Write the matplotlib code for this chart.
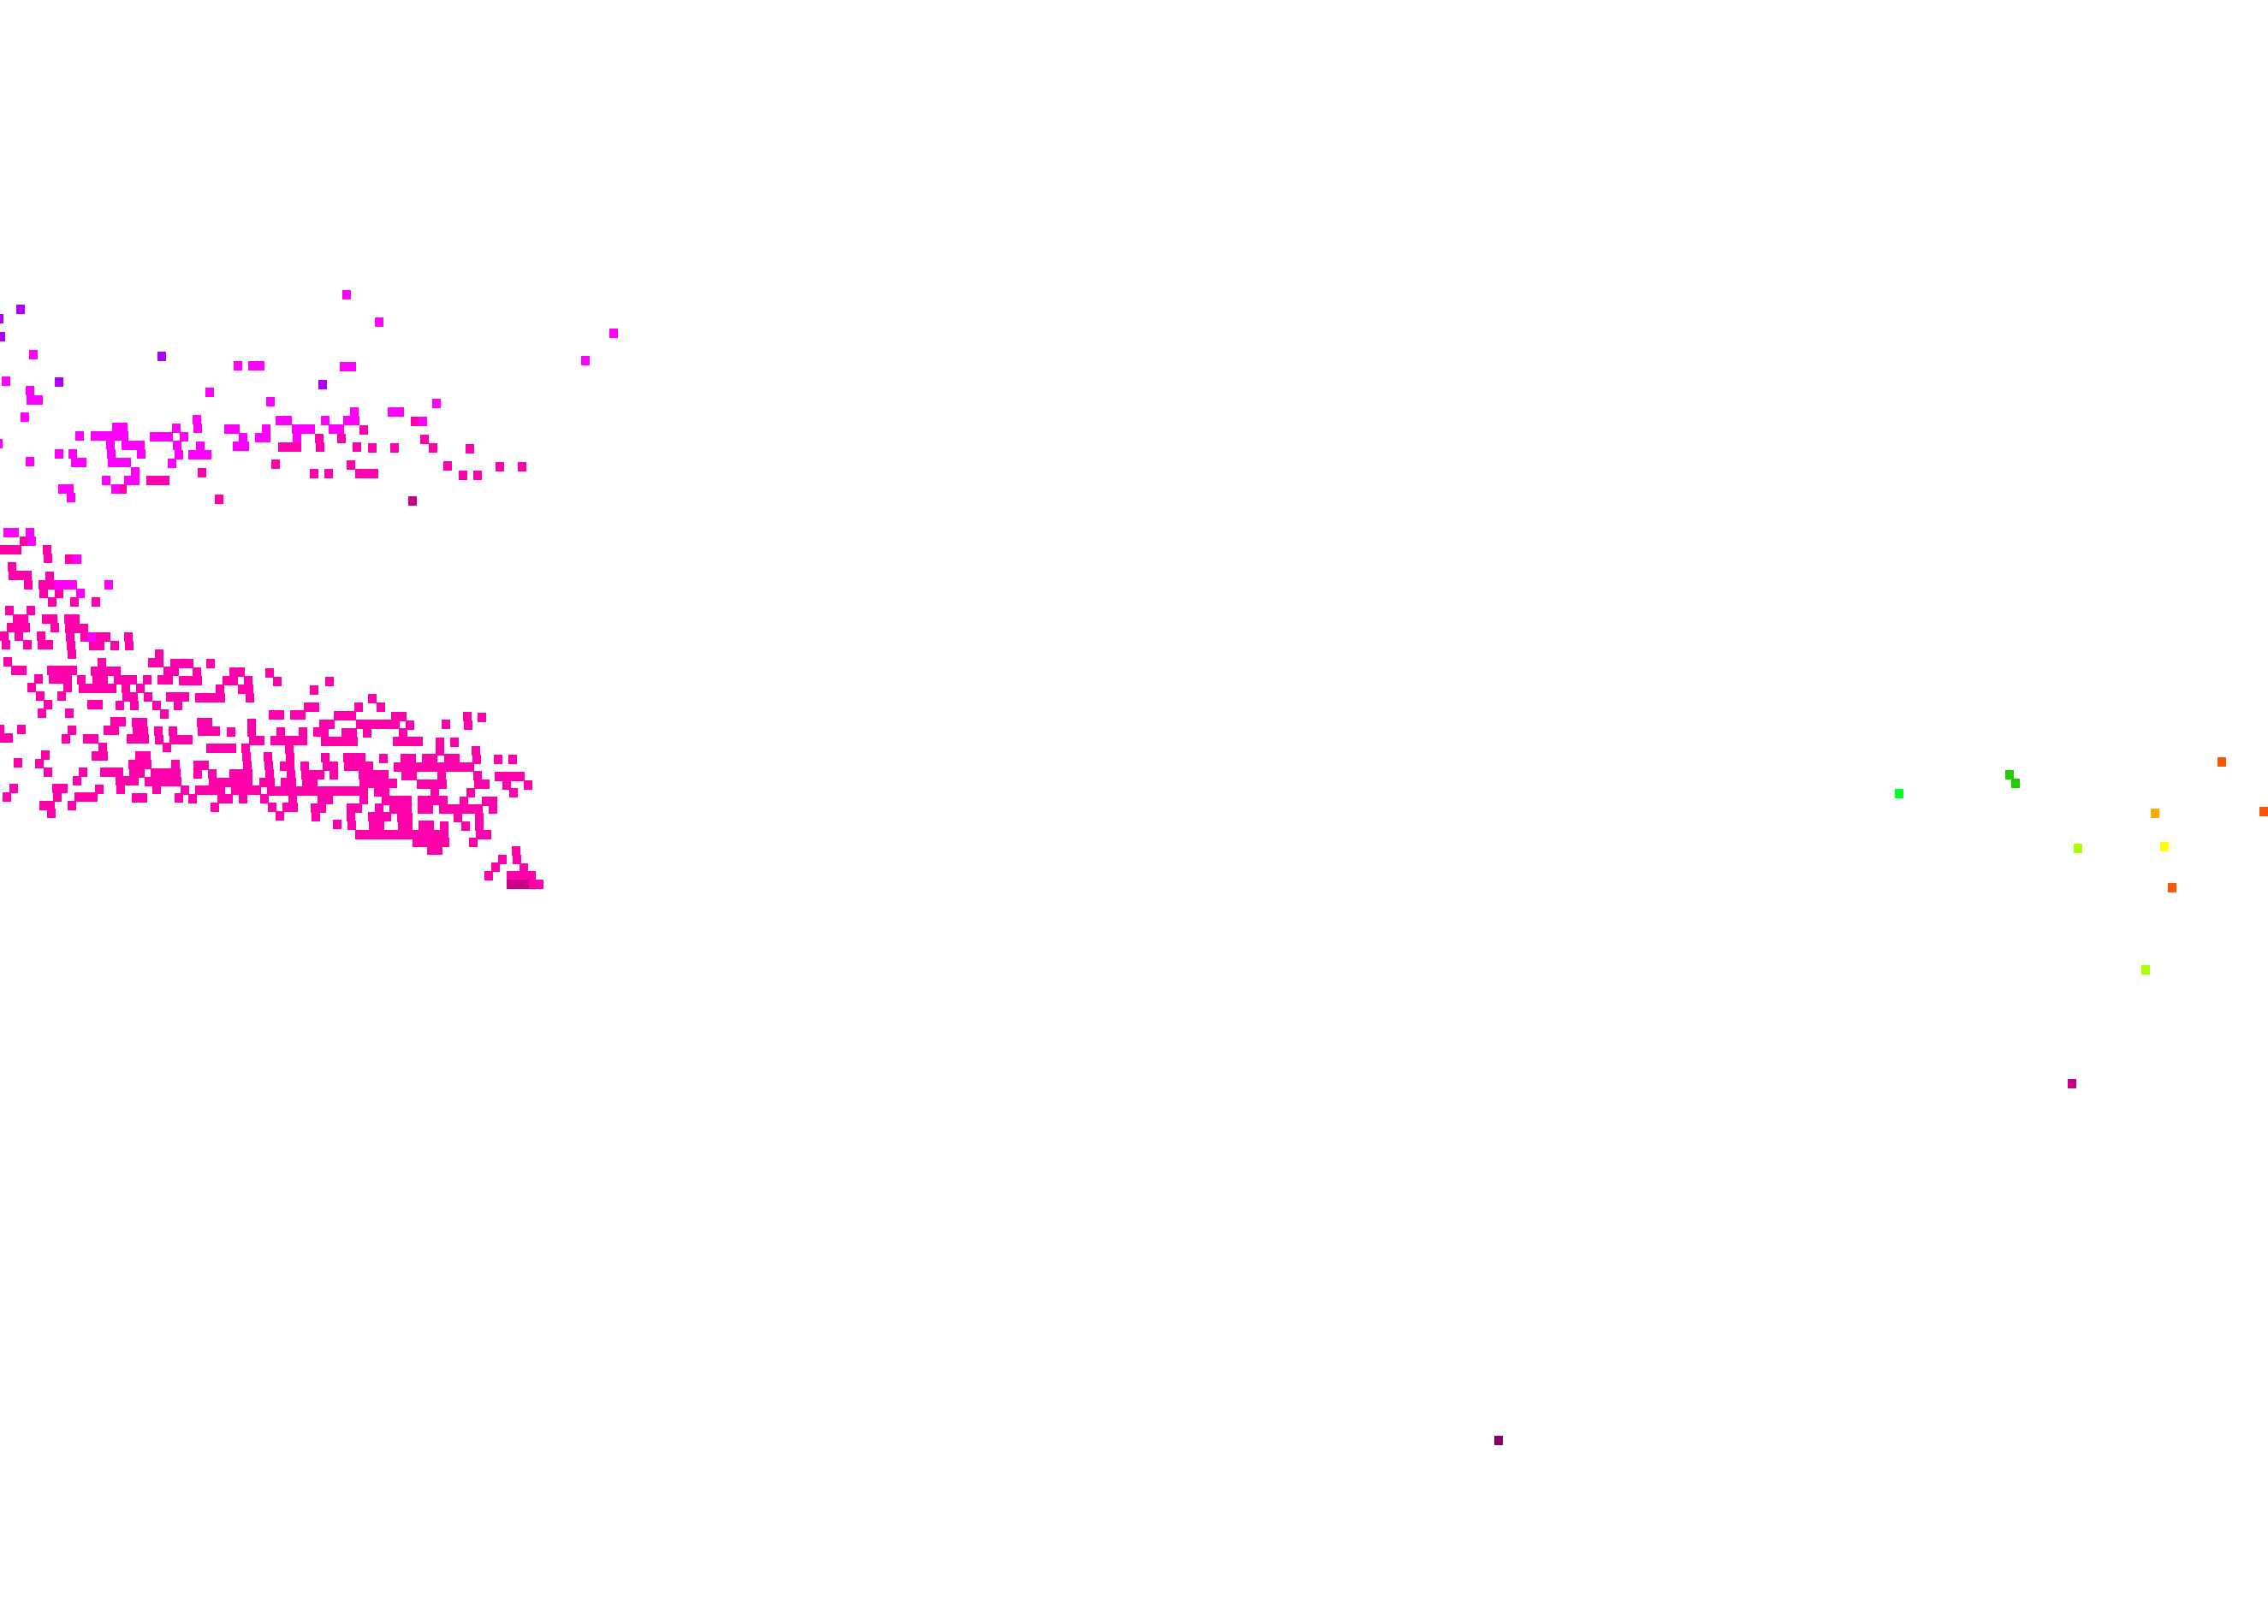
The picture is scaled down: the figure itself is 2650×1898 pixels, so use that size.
import matplotlib
matplotlib.use("Agg")
import matplotlib.pyplot as plt
import numpy as np

pink_y = [492, 502, 512, 513, 522, 523, 524, 542, 543, 544, 545, 552, 553, 555, 561, 571, 583,
          632, 642, 652, 653, 662, 672, 673, 683, 693, 703, 713, 723, 733, 734, 743, 744, 753, 754,
          764, 773, 774, 775, 783, 784, 785, 786, 793, 794, 795, 796, 803, 804, 805, 806, 813, 814,
          815, 816, 823, 824, 826, 833, 834, 835, 836, 837, 838, 843, 844, 845, 846, 847, 852, 853,
          854, 855, 856, 862, 863, 864, 865, 866, 867, 873, 874, 875, 877, 882, 883, 884, 885, 886,
          887, 891, 892, 893, 894, 895, 896, 902, 903, 904, 905, 906, 907, 912, 913, 914, 915, 916,
          917, 921, 922, 923, 924, 925, 926, 931, 932, 933, 934, 935, 936, 941, 943, 944, 945, 950,
          953, 954, 955, 963, 964, 965, 975, 984, 993, 994, 1004, 1013, 1014, 1023, 1033]
pink_x = [
    [484.5], [424.5], [372.5, 398.5], [495.5], [329.5, 338, 346.5, 373.5, 416.5],
    [434.5, 460.5, 505.5], [548.5], [322], [409.5], [522.5], [583.5, 609.5], [236],
    [366.5, 383.5, 419.5, 428, 436.5], [540.5, 557.5], [175.5, 184, 192.5], [142.5], [256],
    [27.5], [2.5, 11, 19.5, 54.5], [55.5], [81], [13.5], [14.5, 23, 31.5], [57.5],
    [32.5, 49.5, 58], [51, 68.5], [60.5, 86.5, 112], [10.5, 35.5],
    [19.5, 28, 53.5, 62, 79.5, 87.5], [12.5, 21, 29.5, 64], [80.5, 89, 97.5],
    [4.5, 21.5, 47.5], [81.5, 98.5, 115.5, 124, 149.5], [6.5, 31.5, 48.5, 57],
    [82.5, 108.5, 116.5, 133.5, 150.5], [83.5, 185.5], [8.5], [118.5, 177.5, 186],
    [203.5, 212, 220.5, 245.5], [17.5, 26, 59.5, 68, 76.5, 85],
    [110.5, 119, 127.5, 136, 195.5, 204], [229.5, 272.5, 281], [314.5], [44.5, 61.5, 70, 78.5],
    [95, 112.5, 120.5, 137.5, 146, 154.5, 171.5, 188.5, 196.5],
    [213.5, 222, 230.5, 264.5, 272.5, 289.5], [323.5, 384.5], [36.5, 79],
    [96.5, 105, 113.5, 122, 130.5, 146.5, 163.5], [256.5, 282.5, 290.5], [366.5], [46.5, 71.5],
    [147.5, 155.5, 173, 198.5, 207, 215.5], [232.5, 241, 249.5, 258, 291.5], [435],
    [55.5, 106.5, 114.5], [140, 157, 182.5, 207.5], [359.5, 368, 418.5, 444.5], [48.5, 81],
    [191.5], [318.5, 326.5, 343.5, 351.5], [394.5, 403, 411], [461.5, 469.5, 546], [562.5],
    [133.5, 141.5], [158.5, 166.5, 234.5, 242.5], [293.5],
    [377.5, 386, 420.5, 429, 437, 445.5, 453.5, 461.5, 521], [479, 546.5], [-0.5, 24.5],
    [83.5, 125.5, 133.5], [159.5, 167.5, 184.5, 201.5, 235.5, 244, 252],
    [269.5, 294, 328, 353.5, 370.5, 378.5], [403.5, 411.5, 429, 471], [1, 9.5],
    [76.5, 101.5, 109.5, 152.5, 160.5, 168.5], [185.5, 202.5, 211, 219.5],
    [295.5, 303.5, 320.5, 328.8, 337, 345.3, 353.5],
    [379.5, 388, 396, 404.5, 412.5, 463.5, 472, 480.5, 488.5], [513.5, 530.5], [119.5, 195],
    [245.5, 254, 262.5, 270.5, 287], [338], [514, 556], [53], [111.5, 120.5, 162.5, 170.5],
    [288, 313], [339, 380, 405.5, 414, 422], [447.5, 472.5, 480.5, 497.5, 505.5, 523.5, 531.5],
    [556.5, 581.5, 598.5], [20.5], [45.5], [154.5, 163, 171.5, 205], [230.5, 238.5, 289, 314],
    [331.5, 338.5, 355.5, 381.5, 389.5, 406.5, 414.5, 423, 431],
    [464.5, 473, 481.5, 490, 498.5, 507, 515.5, 524, 532.5, 541, 549],
    [55.5, 96.5, 121.5, 130, 138.5], [155.5, 163.5, 180.5, 189, 197.5, 205.5],
    [231, 247.5, 272.5, 281, 289.5, 314.5],
    [339.5, 356.5, 365, 373.5, 390, 423.5, 432, 440.5, 449], [473.5, 481.5, 515.5, 557.5],
    [582.5, 591, 599.5, 608], [89.5, 139.5, 148, 156.5], [173.5, 182, 190, 198.5, 206.5],
    [248.5, 257, 265.5, 273.5, 282, 290, 307.5, 315.5, 332.5, 340.5],
    [357.5, 365.5, 424.5, 433, 441.5, 450, 458.5], [491.5, 500, 508.5, 516.5, 558.5, 566.5],
    [591.5, 616.5], [15.5, 65.5, 73.5], [115.5, 140.5, 182.5],
    [215.5, 232.5, 241, 249.5, 257.5, 274.5, 283, 291.5, 299.5],
    [316.5, 324.5, 333, 341, 349.5, 358, 366, 374.5, 383, 391, 399.5, 408, 416, 424.5],
    [441.5, 450], [508, 550, 600], [7.5, 66.5, 91.5, 100, 108.5], [158.5, 166.5, 208.5],
    [224.5, 258.5, 266.5, 283.5, 308.5], [342, 375.5, 383.5, 425],
    [450.5, 459, 467.5, 475.5, 492.5, 501, 509.5, 517.5], [542, 567.5, 575.5], [50.5, 58.5, 84],
    [250.5, 317.5, 334.5, 342.5], [367.5, 375.5, 409.5, 417.5, 442.5],
    [459.5, 467.5, 476, 492.5, 501, 517.5, 525.8, 534, 542.3, 550.6, 558.9, 576], [60], [326.5],
    [368.5, 410, 434.5, 443, 451.5], [468.5, 476.5, 534.5, 559.5], [393.5],
    [410.5, 435.5, 443.5, 493.5, 501.5], [469.5, 477, 518.5, 543.5, 560],
    [419.5, 428, 436, 444.5, 453, 461, 469.5, 478, 486, 494.5, 503, 511, 519, 560.5, 568.5],
    [486.5, 495, 503, 511.5, 519.5, 552.5], [503.5, 511.5], [603], [586.5, 603.5], [579], [612],
    [571, 596.5, 604.5, 612.5, 620.5], [621.5, 629.5],
]

magenta_y = [344, 376, 389, 414, 421, 427, 428, 445, 456, 458, 467, 469, 471, 481, 487, 490, 491,
             492, 499, 500, 501, 509, 510, 511, 518, 519, 520, 521, 530, 531, 539, 540, 541, 551,
             561, 571, 581, 622, 632, 653, 683, 693, 744]
magenta_x = [
    [404.5], [442.5], [717], [39], [683.5], [278, 295, 304], [401.5, 410.5], [7], [34.5], [245],
    [36, 45], [316], [509.5], [413.5, 457.5, 466.5], [29], [230], [327, 336, 379.5, 405.5, 414.5],
    [493.5], [135.5, 144], [205.5, 231], [266.5, 275, 310.5, 345.5, 354, 362.5, 388.5, 397],
    [92.5, 110.5, 119, 127.5, 136, 144.5], [180, 188.5, 197, 214.5], [284, 302.5, 311, 346.5],
    [-2.5], [128.5], [146.5, 155, 163.5, 207], [233.5, 277, 286], [68.5, 85, 129.5, 164.5],
    [208.5, 225, 233.5, 242], [34.5], [87.5, 96, 130.5, 139, 147.5], [200.5], [157.5],
    [123.5, 149.5, 158], [72.5, 81, 134.5], [82.5], [8.5, 17, 34.5], [36.5], [89.5],
    [67.5, 76, 84.5, 127], [93.5], [107],
]

purple_x = [24, -1.5, 0.5, 189, 68.5, 376.5]
purple_y = [361, 372, 393, 416, 446, 449]

dark_pink_x = [596.5, 604.5, 612.5, 481.5, 2421]
dark_pink_y = [1033, 1033, 1033, 585, 1266]

orange_x = [2596, 2645, 2538]
orange_y = [890, 948, 1037]
lime_x = [2428, 2507]
lime_y = [991, 1133]
green_x = [2348, 2355]
green_y = [905, 915]
single_x = [2219, 2518, 2529, 1751]
single_y = [927, 950, 989, 1683]
single_colors = ["#00ff2a", "#ffaa00", "#ffff00", "#880066"]

W, H = 2650, 1899
fig = plt.figure(figsize=(W / 100, H / 100), dpi=100, facecolor="white")
ax = fig.add_axes([0, 0, 1, 1])
ax.set_xlim(0, W)
ax.set_ylim(H - 1, -1)
ax.axis("off")

# cells are slightly taller than wide
cell = [(-0.91, -1), (0.91, -1), (0.91, 1), (-0.91, 1)]
kw = dict(marker=cell, s=(11 * 0.72) ** 2, linewidths=0, antialiased=False, clip_on=True)


def rows(ys, xs):
    px = np.concatenate([np.asarray(r, float) for r in xs])
    py = np.repeat(np.asarray(ys, float), [len(r) for r in xs])
    return px, py


px, py = rows(pink_y, pink_x)
ax.scatter(px, py, c="#ff00aa", zorder=2, **kw)
px, py = rows(magenta_y, magenta_x)
ax.scatter(px, py, c="#ff00ff", zorder=3, **kw)
ax.scatter(purple_x, purple_y, c="#aa00ff", zorder=3, **kw)
ax.scatter(dark_pink_x, dark_pink_y, c="#cc0088", zorder=4, **kw)
ax.scatter(orange_x, orange_y, c="#ff5500", zorder=3, **kw)
ax.scatter(lime_x, lime_y, c="#aaff00", zorder=3, **kw)
ax.scatter(green_x, green_y, c="#22cc00", zorder=3, **kw)
ax.scatter(single_x, single_y, c=single_colors, zorder=3, **kw)

fig.savefig("out.png", dpi=100, facecolor="white")
